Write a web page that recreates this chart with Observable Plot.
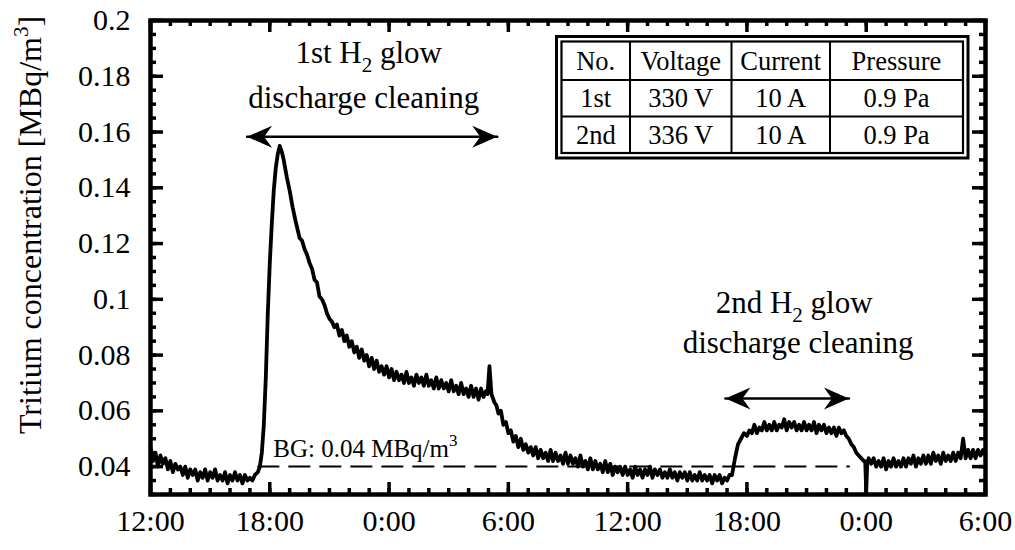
<!DOCTYPE html>
<html><head><meta charset="utf-8">
<script src="https://cdn.jsdelivr.net/npm/d3@7"></script>
<script src="https://cdn.jsdelivr.net/npm/@observablehq/plot@0.6"></script>
<style>
body{margin:0;background:#fff;}
#chart{width:1015px;height:550px;}
</style></head><body><div id="chart"></div>
<script>
// Tritium concentration [MBq/m3].
// Regular segments are sampled every 0.125 h (hours since 12:00 on day 1).
const sampleStep = 0.125;
const preStart = 0;
const preValues = [0.047,0.042,0.045,0.040,0.044,0.041,0.043,0.039,
  0.042,0.038,0.041,0.039,0.040,0.037,0.040,0.036,
  0.039,0.037,0.039,0.035,0.038,0.036,0.039,0.035,
  0.038,0.036,0.039,0.035,0.037,0.035,0.038,0.034,
  0.037,0.035,0.038,0.035,0.037,0.034,0.037,0.035,
  0.036,0.035,0.037];
const riseHours = [5.4,5.5,5.6,5.7,5.8,5.9,6,6.1,6.2,6.3,6.4,6.5,6.6,6.7,6.85,7,7.15,7.3];
const riseValues = [0.038,0.040,0.045,0.055,0.072,0.095,0.113,0.127,0.139,0.147,0.152,0.155,0.153,0.150,0.144,0.139,0.133,0.128];
const decayStart = 7.5;
const decayValues = [0.122,0.121,0.118,0.116,0.113,0.111,0.107,0.106,
  0.101,0.100,0.098,0.095,0.093,0.092,0.090,0.091,
  0.087,0.089,0.085,0.087,0.083,0.085,0.081,0.083,
  0.079,0.082,0.078,0.080,0.076,0.079,0.075,0.078,
  0.074,0.076,0.073,0.076,0.072,0.075,0.071,0.074,
  0.071,0.073,0.070,0.074,0.070,0.072,0.069,0.073,
  0.070,0.072,0.069,0.073,0.069,0.071,0.068,0.072,
  0.068,0.071,0.068,0.070,0.067,0.071,0.067,0.069,
  0.066,0.070,0.066,0.068,0.065,0.069,0.065,0.068,
  0.064,0.068,0.065,0.067];
const spikeHours = [16.95,17.05,17.15,17.3,17.4];
const spikeValues = [0.066,0.076,0.066,0.063,0.062];
const afterStart = 17.5;
const afterValues = [0.059,0.060,0.055,0.056,0.052,0.053,0.049,0.051,
  0.047,0.050,0.046,0.048,0.045,0.047,0.044,0.047,
  0.043,0.046,0.043,0.045,0.042,0.046,0.042,0.045,
  0.042,0.044,0.041,0.045,0.041,0.044,0.041,0.043,
  0.040,0.044,0.040,0.042,0.039,0.043,0.039,0.042,
  0.039,0.041,0.038,0.042,0.038,0.041,0.037,0.040,
  0.038,0.040,0.037,0.040,0.037,0.039,0.036,0.040,
  0.037,0.039,0.036,0.039,0.037,0.040,0.036,0.039,
  0.037,0.039,0.036,0.038,0.036,0.039,0.036,0.038,
  0.035,0.038,0.036,0.038,0.035,0.038,0.035,0.037,
  0.035,0.038,0.035,0.037,0.035,0.037,0.034,0.037,
  0.035,0.037,0.034,0.036,0.035,0.037,0.037];
const rise2Hours = [29.4,29.55,29.7,29.85];
const rise2Values = [0.043,0.048,0.050,0.052];
const plateauStart = 30;
const plateauValues = [0.051,0.053,0.052,0.055,0.052,0.054,0.053,0.056,
  0.053,0.055,0.053,0.056,0.053,0.055,0.054,0.057,
  0.053,0.056,0.054,0.056,0.053,0.055,0.053,0.056,
  0.053,0.055,0.053,0.056,0.052,0.055,0.053,0.055,
  0.052,0.054,0.052,0.054,0.051,0.054,0.052,0.053,
  0.051,0.050,0.048,0.047,0.045,0.044,0.043,0.042];
const dipHours = [35.95,36,36.05];
const dipValues = [0.042,0.031,0.041];
const tailStart = 36.125;
const tailValues = [0.043,0.041,0.043,0.040,0.042,0.040,0.043,0.039,
  0.042,0.040,0.043,0.040,0.042,0.040,0.043,0.040,
  0.043,0.041,0.044,0.040,0.043,0.041,0.044,0.041,
  0.044,0.041,0.045,0.042,0.044,0.041,0.045,0.042,
  0.044,0.042,0.045,0.042,0.045,0.043,0.050,0.043,
  0.046,0.043,0.046,0.043,0.046,0.044,0.046,0.044];

const xTickHours = [0,6,12,18,24,30,36,42];
const xTickLabels = ["12:00","18:00","0:00","6:00","12:00","18:00","0:00","6:00"];
const yTicks = [0.04,0.06,0.08,0.1,0.12,0.14,0.16,0.18,0.2];
const yTickLabels = ["0.04","0.06","0.08","0.1","0.12","0.14","0.16","0.18","0.2"];
const backgroundLevel = 0.04;
const backgroundSpan = [5.4, 35.2];
const firstGdcSpan = [4.86, 17.44];
const firstGdcArrowLevel = 0.1583;
const secondGdcSpan = [28.92, 35.13];
const secondGdcArrowLevel = 0.0644;
const tableHeader = ["No.","Voltage","Current","Pressure"];
const tableRows = [["1st","330 V","10 A","0.9 Pa"],["2nd","336 V","10 A","0.9 Pa"]];

const grid = (start, vals) => vals.map((v, i) => ({h: start + i * sampleStep, v}));
const pairs = (hs, vs) => hs.map((h, i) => ({h, v: vs[i]}));
const data = [
  ...grid(preStart, preValues), ...pairs(riseHours, riseValues),
  ...grid(decayStart, decayValues), ...pairs(spikeHours, spikeValues),
  ...grid(afterStart, afterValues), ...pairs(rise2Hours, rise2Values),
  ...grid(plateauStart, plateauValues), ...pairs(dipHours, dipValues),
  ...grid(tailStart, tailValues)
];

const W = 1015, H = 550, mt = 20, mb = 56, ml = 150, mr = 30;
const fw = W - ml - mr, fh = H - mt - mb;
const xMinor = d3.range(0, 42.001, 1);
const yMinor = d3.range(0.03, 0.2001, 0.005);

function stealth(color) {
  const ns = "http://www.w3.org/2000/svg";
  const m = document.createElementNS(ns, "marker");
  m.setAttribute("viewBox", "-27 -12 28 24");
  m.setAttribute("markerWidth", 28);
  m.setAttribute("markerHeight", 24);
  m.setAttribute("refX", 0);
  m.setAttribute("refY", 0);
  m.setAttribute("markerUnits", "userSpaceOnUse");
  m.setAttribute("orient", "auto-start-reverse");
  const p = document.createElementNS(ns, "path");
  p.setAttribute("d", "M0,0L-25,-11L-17,0L-25,11Z");
  p.setAttribute("fill", color);
  p.setAttribute("stroke", "none");
  m.appendChild(p);
  return m;
}

const font = "'Liberation Serif', 'Times New Roman', serif";
const plot = Plot.plot({
  width: W, height: H,
  marginTop: mt, marginBottom: mb, marginLeft: ml, marginRight: mr,
  style: {fontFamily: font, fontSize: "30px", background: "#fff", color: "#000", overflow: "visible"},
  x: {domain: [0, 42], label: null},
  y: {domain: [0.03, 0.2], label: null},
  marks: [
    Plot.ruleY([backgroundLevel], {x1: backgroundSpan[0], x2: backgroundSpan[1], stroke: "#000", strokeWidth: 2, strokeDasharray: "22,9"}),
    Plot.line(data, {x: "h", y: "v", stroke: "#000", strokeWidth: 3.8}),
    Plot.line([{h: firstGdcSpan[0], v: firstGdcArrowLevel}, {h: firstGdcSpan[1], v: firstGdcArrowLevel}],
      {x: "h", y: "v", stroke: "#000", strokeWidth: 2.5, markerStart: stealth, markerEnd: stealth}),
    Plot.line([{h: secondGdcSpan[0], v: secondGdcArrowLevel}, {h: secondGdcSpan[1], v: secondGdcArrowLevel}],
      {x: "h", y: "v", stroke: "#000", strokeWidth: 2.5, markerStart: stealth, markerEnd: stealth}),
    // inward ticks on all four sides
    Plot.ruleX(xMinor, {insetTop: fh - 6, strokeWidth: 3.5}),
    Plot.ruleX(xMinor, {insetBottom: fh - 6, strokeWidth: 3.5}),
    Plot.ruleX(xTickHours, {insetTop: fh - 12, strokeWidth: 3.5}),
    Plot.ruleX(xTickHours, {insetBottom: fh - 12, strokeWidth: 3.5}),
    Plot.ruleY(yMinor, {insetRight: fw - 6, strokeWidth: 3.5}),
    Plot.ruleY(yMinor, {insetLeft: fw - 6, strokeWidth: 3.5}),
    Plot.ruleY(yTicks, {insetRight: fw - 13, strokeWidth: 3.5}),
    Plot.ruleY(yTicks, {insetLeft: fw - 13, strokeWidth: 3.5}),
    Plot.frame({stroke: "#000", strokeWidth: 4.5}),
    Plot.axisX(xTickHours, {tickSize: 0, tickPadding: 15, label: null,
      tickFormat: d => xTickLabels[xTickHours.indexOf(d)]}),
    Plot.axisY(yTicks, {tickSize: 0, tickPadding: 20, label: null,
      tickFormat: d => yTickLabels[yTicks.indexOf(d)]})
  ]
});
document.getElementById("chart").appendChild(plot);

const sx = plot.scale("x").apply;
const svg = d3.select(plot);
const g = svg.append("g").attr("fill", "#000").style("font-family", font);

function richText(x, y, parts, size, anchor) {
  const t = g.append("text").attr("x", x).attr("y", y).attr("text-anchor", anchor || "middle").style("font-size", size + "px");
  for (const [s, kind] of parts) {
    const ts = t.append("tspan").text(s);
    if (kind === "sub") ts.attr("dy", 9).style("font-size", (size * 0.68) + "px");
    else if (kind === "sup") ts.attr("dy", -11).style("font-size", (size * 0.68) + "px");
    else if (kind === "down") ts.attr("dy", -9);
  }
  return t;
}

// first cleaning annotation
richText(sx(11.0), 63, [["1st H"], ["2", "sub"], [" glow", "down"]], 31);
richText(sx(10.75), 108, [["discharge cleaning"]], 31);
// second cleaning annotation
richText(sx(32.4), 313, [["2nd H"], ["2", "sub"], [" glow", "down"]], 31);
richText(sx(32.6), 353, [["discharge cleaning"]], 31);
// background label
richText(sx(6.2), 457, [["BG: 0.04 MBq/m"], ["3", "sup"]], 25, "start");

// y-axis title
g.append("text").attr("transform", "translate(41,225) rotate(-90)").attr("text-anchor", "middle")
  .style("font-size", "32px")
  .call(t => { t.append("tspan").text("Tritium concentration [MBq/m"); t.append("tspan").text("3").attr("dy", -13).style("font-size", "21px"); t.append("tspan").text("]").attr("dy", 13); });

// parameter table
const tb = g.append("g");
const ox0 = 556.5, oy0 = 36.5, ox1 = 968, oy1 = 158;
tb.append("rect").attr("x", ox0).attr("y", oy0).attr("width", ox1 - ox0).attr("height", oy1 - oy0)
  .attr("fill", "#fff").attr("stroke", "#000").attr("stroke-width", 3);
const ix0 = 561.5, iy0 = 41.5, ix1 = 963, iy1 = 153;
tb.append("rect").attr("x", ix0).attr("y", iy0).attr("width", ix1 - ix0).attr("height", iy1 - iy0)
  .attr("fill", "none").attr("stroke", "#000").attr("stroke-width", 2.2);
const colEdges = [ix0, 630, 731.5, 830, ix1];
const rowEdges = [iy0, 80, 116.5, iy1];
for (const cx of colEdges.slice(1, -1)) tb.append("line").attr("x1", cx).attr("x2", cx).attr("y1", iy0).attr("y2", iy1).attr("stroke", "#000").attr("stroke-width", 2);
for (const ry of rowEdges.slice(1, -1)) tb.append("line").attr("x1", ix0).attr("x2", ix1).attr("y1", ry).attr("y2", ry).attr("stroke", "#000").attr("stroke-width", 2);
const allRows = [tableHeader, ...tableRows];
allRows.forEach((row, r) => row.forEach((cell, c) => {
  tb.append("text").attr("x", (colEdges[c] + colEdges[c + 1]) / 2).attr("y", (rowEdges[r] + rowEdges[r + 1]) / 2 + 9)
    .attr("text-anchor", "middle").style("font-size", "26.5px").text(cell);
}));
</script></body></html>
